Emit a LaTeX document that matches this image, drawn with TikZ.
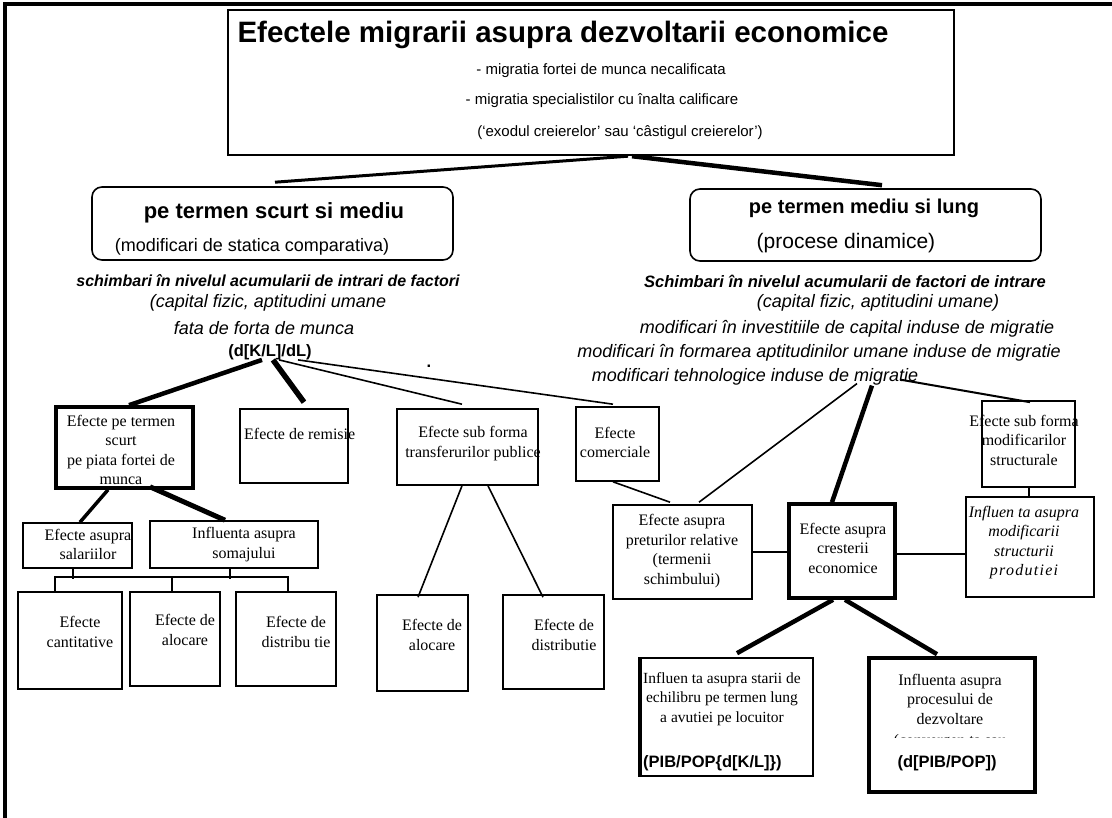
\documentclass[tikz,border=0pt]{standalone}
\usepackage{fontspec}
\setmainfont{Liberation Serif}
\newfontfamily\arial{Liberation Sans}
\begin{document}
    \begin{tikzpicture}[x=1pt, y=-1pt,
        box/.style={draw, line width=1.6pt, inner sep=0pt},
        heavybox/.style={box, line width=3.6pt},
        txt/.style={align=center, inner sep=0pt, font=\fontsize{16}{19.5}\selectfont},
        sans/.style={inner sep=0pt, font=\arial\fontsize{18}{24}\selectfont},
        ital/.style={inner sep=0pt, font=\arial\itshape\fontsize{18}{24}\selectfont},
        boldsans/.style={inner sep=0pt, font=\arial\bfseries\fontsize{16.5}{20}\selectfont},
        link/.style={line width=1.6pt},
        heavy/.style={line width=4.5pt}]
        \useasboundingbox (0,0) rectangle (1112,818);
        \draw[line width=4pt] (1112,4) -- (5,4) -- (5,818);

        \node[box, line width=2.4pt, minimum width=726pt, minimum height=145pt] (title) at (591,82.5) {};
        \node[sans, font=\arial\bfseries\fontsize{29.5}{34}\selectfont] (titlehead) at (563,35) {Efectele migrarii asupra dezvoltarii economice};
        \node[sans, font=\arial\fontsize{15}{20}\selectfont] (unskilled) at (601,71) {- migratia fortei de munca necalificata};
        \node[sans, font=\arial\fontsize{15}{20}\selectfont] (skilled) at (602,101) {- migratia specialistilor cu înalta calificare};
        \node[sans, font=\arial\fontsize{15}{20}\selectfont] (brain) at (620,133) {(‘exodul creierelor’ sau ‘câstigul creierelor’)};

        \node[box, rounded corners=10pt, minimum width=361pt, minimum height=73pt] (shortterm) at (272.5,223.5) {};
        \node[sans, font=\arial\bfseries\fontsize{22}{24}\selectfont] (shorthead) at (274,213) {pe termen scurt si mediu};
        \node[sans] (shortsub) at (252,247) {(modificari de statica comparativa)};
        \node[box, rounded corners=10pt, minimum width=351pt, minimum height=72pt] (longterm) at (865.5,225) {};
        \node[sans, font=\arial\bfseries\fontsize{20}{24}\selectfont] (longhead) at (864,208) {pe termen mediu si lung};
        \node[sans, font=\arial\fontsize{21}{24}\selectfont] (longsub) at (846,243) {(procese dinamice)};

        \node[ital, font=\arial\bfseries\itshape\fontsize{16}{20}\selectfont] (shortchg) at (268,281) {schimbari în nivelul acumularii de intrari de factori};
        \node[ital] (shortcap) at (268,303) {(capital fizic, aptitudini umane};
        \node[ital] (shortlab) at (264,328) {fata de forta de munca};
        \node[boldsans] (kl) at (270,352) {(d[K/L]/dL)};
        \node[boldsans] (dot) at (429,366) {.};

        \node[ital, font=\arial\bfseries\itshape\fontsize{16.5}{20}\selectfont] (longchg) at (845,281) {Schimbari în nivelul acumularii de factori de intrare};
        \node[ital] (longcap) at (878,303) {(capital fizic, aptitudini umane)};
        \node[ital] (invest) at (847,329) {modificari în investitiile de capital induse de migratie};
        \node[ital] (skills) at (819,353) {modificari în formarea aptitudinilor umane induse de migratie};
        \node[ital] (tehno) at (755,377) {modificari tehnologice induse de migratie};

        \node[heavybox, minimum width=137pt, minimum height=81pt] (labour) at (124.5,447.5) {};
        \node[txt] (labourtxt) at (121,450) {Efecte pe termen\\scurt\\pe piata fortei de\\munca};
        \node[box, minimum width=108pt, minimum height=74pt] (remit) at (294,446) {};
        \node[txt, anchor=west] (remittxt) at (244,434) {Efecte de remisie};
        \node[box, minimum width=141pt, minimum height=76pt] (transfer) at (467.5,447) {};
        \node[txt] (transfertxt) at (473,443.5) {Efecte sub forma\\transferurilor publice};
        \node[box, minimum width=83pt, minimum height=74pt] (trade) at (617.5,444) {};
        \node[txt] (tradetxt) at (615,442.5) {Efecte\\comerciale};
        \node[box, minimum width=93pt, minimum height=86pt] (structural) at (1028.5,444) {};
        \node[txt] (structuraltxt) at (1024,440) {Efecte sub forma\\modificarilor\\structurale};

        \node[box, minimum width=109pt, minimum height=45pt] (wages) at (77.5,545.5) {};
        \node[txt] (wagestxt) at (88,544.5) {Efecte asupra\\salariilor};
        \node[box, minimum width=168pt, minimum height=47pt] (unemp) at (234,544.5) {};
        \node[txt] (unemptxt) at (244,544.5) {Influenta asupra\\somajului};
        \node[box, minimum width=139pt, minimum height=94pt] (prices) at (682.5,552) {};
        \node[txt] (pricestxt) at (682,551) {Efecte asupra\\preturilor relative\\(termenii\\schimbului)};
        \node[heavybox, minimum width=106pt, minimum height=94pt] (growth) at (842,551) {};
        \node[txt] (growthtxt) at (843,548) {Efecte asupra\\cresterii\\economice};
        \node[box, minimum width=128pt, minimum height=100pt] (production) at (1030,547) {};
        \node[txt, font=\itshape\fontsize{16}{19.5}\selectfont] (productiontxt) at (1024,542.5) {Influen ta asupra\\modificarii\\structurii\\{\addfontfeature{LetterSpace=8}produtiei}};

        \node[box, minimum width=104pt, minimum height=97pt] (quant) at (70,640.5) {};
        \node[txt] (quanttxt) at (80,632) {Efecte\\cantitative};
        \node[box, minimum width=90pt, minimum height=94pt] (alloc) at (175,639) {};
        \node[txt] (alloctxt) at (185,630) {Efecte de\\alocare};
        \node[box, minimum width=100pt, minimum height=94pt] (distrib) at (286,639) {};
        \node[txt] (distribtxt) at (296,632) {Efecte de\\distribu tie};
        \node[box, minimum width=91pt, minimum height=96pt] (alloctr) at (422.5,643) {};
        \node[txt] (alloctrtxt) at (432,635) {Efecte de\\alocare};
        \node[box, minimum width=101pt, minimum height=94pt] (distribtr) at (553.5,642) {};
        \node[txt] (distribtrtxt) at (564,635) {Efecte de\\distributie};

        \node[box, minimum width=172pt, minimum height=118pt] (steady) at (727,717) {};
        \draw[line width=3.5pt] (steady.north west) -- (steady.south west);
        \node[txt, font=\fontsize{15.5}{19.5}\selectfont] (steadytxt) at (722,699) {Influen ta asupra starii de\\echilibru pe termen lung\\a avutiei pe locuitor};
        \node[boldsans, anchor=west] (steadyfml) at (643,763) {(PIB/POP\{d[K/L]\})};
        \node[heavybox, minimum width=166pt, minimum height=134pt] (develop) at (952,725) {};
        \node[txt] (developtxt) at (950,699) {Influenta asupra\\procesului de\\dezvoltare};
        \begin{scope}
            \clip (880,728) rectangle (1020,737.5);
            \node[txt] (convtxt) at (950,742) {(convergen ta sau};
        \end{scope}
        \node[boldsans] (developfml) at (947,763) {(d[PIB/POP])};

        \draw[line width=3pt] ([xshift=37pt]title.south) -- ([xshift=2.5pt,yshift=4pt]shortterm.north);
        \draw[heavy] ([xshift=41pt]title.south) -- ([xshift=16.5pt,yshift=3pt]longterm.north);

        \draw[heavy] ([xshift=-8pt]kl.south) -- ([xshift=4.5pt]labour.north);
        \draw[line width=5.5pt] ([xshift=3pt]kl.south) -- ([xshift=10pt,yshift=6pt]remit.north);
        \draw[link] ([xshift=9pt]kl.south) -- ([xshift=-5.5pt,yshift=4pt]transfer.north);
        \draw[link] ([xshift=28pt]kl.south) -- ([xshift=-4.5pt,yshift=2pt]trade.north);

        \draw[line width=3.5pt] ([xshift=-16.5pt]labour.south) -- ([xshift=2.5pt]wages.north);
        \draw[line width=5pt] ([xshift=25.5pt,yshift=3pt]labour.south) -- ([xshift=-9pt]unemp.north);
        \draw[link] ([xshift=-4.5pt]wages.south) -- ++(0,10);
        \draw[link] ([xshift=-4pt]unemp.south) -- ++(0,10);
        \draw[link] ([xshift=-15pt]quant.north) -- ++(0,-14) -| ([xshift=2pt]distrib.north);
        \draw[link] ([xshift=-3pt]alloc.north) -- ++(0,-14);

        \draw[link] ([xshift=-5.5pt]transfer.south) -- ([xshift=-4.5pt,yshift=-3pt]alloctr.north);
        \draw[link] ([xshift=20.5pt]transfer.south) -- ([xshift=-10.5pt,yshift=-3pt]distribtr.north);
        \draw[link] ([xshift=-4.5pt]trade.south) -- ([xshift=-12.5pt,yshift=2pt]prices.north);

        \draw[link] ([xshift=102pt,yshift=2pt]tehno.south) -- ([xshift=16.5pt,yshift=2pt]prices.north);
        \draw[heavy] ([xshift=117pt]tehno.south) -- ([xshift=-10pt]growth.north);
        \draw[line width=2pt] ([xshift=145pt,yshift=6pt]tehno.south) -- ([xshift=1.5pt,yshift=-2pt]structural.north);
        \draw[line width=2pt] (structural.south) -- (structural.south |- production.north);

        \draw[link] (prices.east) -- (prices.east -| growth.west);
        \draw[line width=2pt] ([yshift=-3pt]growth.east) -- ([yshift=-3pt]growth.east -| production.west);
        \draw[heavy] ([xshift=-9pt]growth.south) -- ([xshift=10pt,yshift=4pt]steady.north);
        \draw[heavy] ([xshift=3pt]growth.south) -- ([xshift=-15pt,yshift=2pt]develop.north);
    \end{tikzpicture}
\end{document}
